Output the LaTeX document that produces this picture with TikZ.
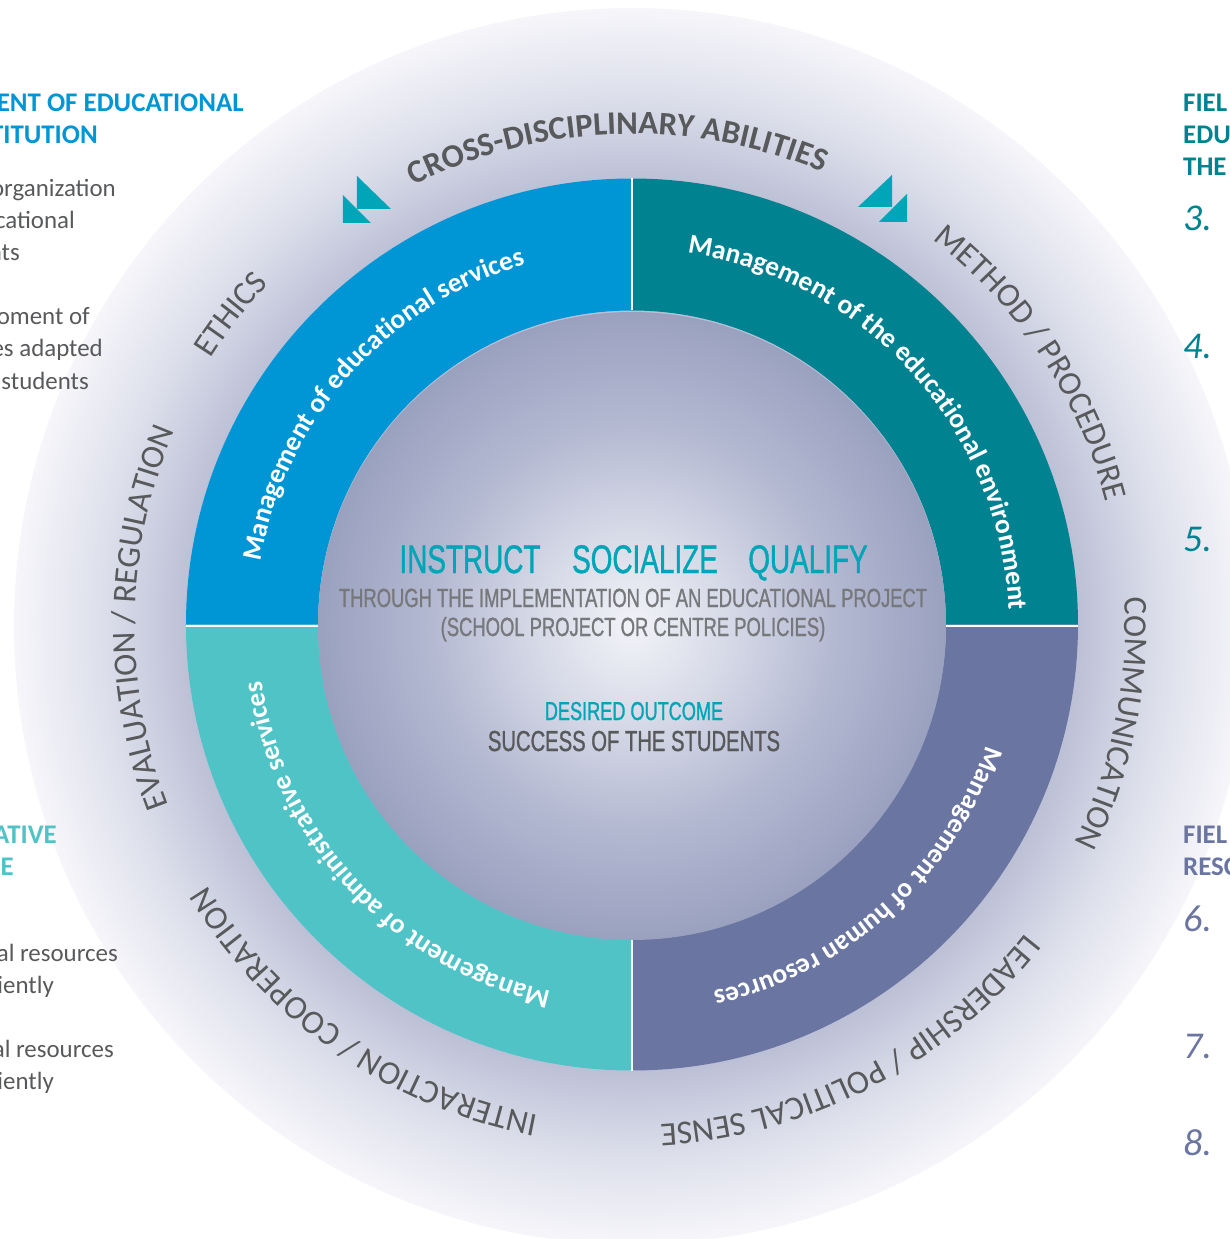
\documentclass[tikz,border=0pt]{standalone}
\usepackage{fontspec}
\setmainfont{Carlito}
\newfontfamily\narrowfont[FakeStretch=0.7,FakeBold=1]{Liberation Sans}
\usetikzlibrary{decorations.text}
\definecolor{bluefield}{HTML}{0096D6}
\definecolor{tealfield}{HTML}{008291}
\definecolor{aquafield}{HTML}{50C3C7}
\definecolor{slatefield}{HTML}{6A76A1}
\definecolor{aquamark}{HTML}{00A5B8}
\definecolor{greytext}{HTML}{58595B}
\definecolor{midgrey}{HTML}{77787B}
\definecolor{ringinner}{HTML}{BCC0D6}
\definecolor{ringmid}{HTML}{DDDFEB}
\definecolor{ringedge}{HTML}{F6F6FA}
\definecolor{corelight}{HTML}{F2F3F8}
\definecolor{coreone}{HTML}{D5D8E6}
\definecolor{coretwo}{HTML}{B4B9D2}
\definecolor{coreedge}{HTML}{9AA1BF}
\newcommand{\bandfont}{\fontsize{27.5}{27.5}\selectfont\bfseries}
\newcommand{\ringfont}{\fontsize{33.5}{33.5}\selectfont}
\newcommand{\crossfont}{\fontsize{33}{33}\selectfont\bfseries}
\pgfdeclareradialshading{ringshade}{\pgfpoint{0bp}{0bp}}{%
  color(0bp)=(ringinner);
  color(18bp)=(ringinner);
  color(21.5bp)=(ringmid);
  color(25bp)=(ringedge);
  color(50bp)=(ringedge)}
\pgfdeclareradialshading{coreshade}{\pgfpoint{0bp}{0bp}}{%
  color(0bp)=(corelight);
  color(8bp)=(coreone);
  color(16bp)=(coretwo);
  color(25bp)=(coreedge);
  color(50bp)=(coreedge)}
\begin{document}
\begin{tikzpicture}[x=1bp,y=1bp,
  headline/.style={font=\fontsize{27}{27}\selectfont\bfseries,inner sep=0pt},
  bodyline/.style={font=\fontsize{25}{25}\selectfont,text=greytext,inner sep=0pt,anchor=base east},
  numeral/.style={font=\fontsize{38}{38}\selectfont\itshape,inner sep=0pt,anchor=base west},
  centreline/.style={inner sep=0pt,anchor=base},
  bandtext/.style={decorate,decoration={text along path,text align=center,text={|\bandfont\color{white}|#1}}},
  ringtext/.style={decorate,decoration={text along path,text align=center,text={|\ringfont\color{greytext}|#1}}},
  crosstext/.style={decorate,decoration={text along path,text align=center,text={|\crossfont\color{greytext}|#1}}}]
\useasboundingbox (-632,-613) rectangle (598,626);
\clip (-632,-613) rectangle (598,626);

% discs
\shade[shading=ringshade] (0,0) circle (618);

% four fields
\begin{scope}[shift={(0,1.5)}]
\fill[bluefield] (90:314) -- (90:446) arc[start angle=90,end angle=180,radius=446] -- (180:314) arc[start angle=180,end angle=90,radius=314] -- cycle;
\fill[tealfield] (0:314) -- (0:446) arc[start angle=0,end angle=90,radius=446] -- (90:314) arc[start angle=90,end angle=0,radius=314] -- cycle;
\fill[aquafield] (180:314) -- (180:446) arc[start angle=180,end angle=270,radius=446] -- (270:314) arc[start angle=270,end angle=180,radius=314] -- cycle;
\fill[slatefield] (270:314) -- (270:446) arc[start angle=270,end angle=360,radius=446] -- (360:314) arc[start angle=360,end angle=270,radius=314] -- cycle;
\foreach \a in {90,270}
  \draw[white,line width=1.5] (\a:314) -- (\a:446);
\foreach \a in {0,180}
  \draw[white,line width=1.5] ([yshift=-1.5]\a:314) -- ([yshift=-1.5]\a:446);
\end{scope}
\shade[shading=coreshade] (0,0) circle (314);

% names of the fields
\path[bandtext={Management of educational services}] (178.3:377) arc[start angle=178.3,end angle=98.3,radius=377];
\path[bandtext={Management of the educational environment}] (87:377) arc[start angle=87,end angle=-3,radius=377];
\path[bandtext={Management of human resources}] (-8:374) arc[start angle=-8,end angle=-88,radius=374];
\path[bandtext={Management of administrative services}] (268:374) arc[start angle=268,end angle=178,radius=374];

% abilities
\path[crosstext={CROSS-DISCIPLINARY ABILITIES}] (130.3:492) arc[start angle=130.3,end angle=53.3,radius=492];
\path[ringtext={ETHICS}] (166.2:499) arc[start angle=166.2,end angle=118.2,radius=499];
\path[ringtext={METHOD / PROCEDURE}] (63:490) arc[start angle=63,end angle=3.8,radius=490];
\path[ringtext={COMMUNICATION}] (18.6:493) arc[start angle=18.6,end angle=-41.4,radius=493];
\path[ringtext={LEADERSHIP / POLITICAL SENSE}] (-22.4:499) arc[start angle=-22.4,end angle=-102.4,radius=499];
\path[ringtext={INTERACTION / COOPERATION}] (275.3:498) arc[start angle=275.3,end angle=195.3,radius=498];
\path[ringtext={EVALUATION / REGULATION}] (219:497) arc[start angle=219,end angle=139,radius=497];

% triangles
\fill[aquamark] (-275,450) -- (-275,417) -- (-241,417) -- cycle;
\fill[aquamark] (-289,431) -- (-289,403) -- (-261,403) -- cycle;
\fill[aquamark] (260,451) -- (260,419) -- (226,419) -- cycle;
\fill[aquamark] (275,432) -- (275,404) -- (247,404) -- cycle;

% centre
\node[centreline,font=\narrowfont\fontsize{40}{40}\selectfont,text=aquamark] (instruct) at (-162,53) {INSTRUCT};
\node[centreline,font=\narrowfont\fontsize{40}{40}\selectfont,text=aquamark] (socialize) at (13,53) {SOCIALIZE};
\node[centreline,font=\narrowfont\fontsize{40}{40}\selectfont,text=aquamark] (qualify) at (176,53) {QUALIFY};
\node[centreline,font=\narrowfont\fontsize{26.4}{26.4}\selectfont,text=midgrey] (through) at (1,19) {THROUGH THE IMPLEMENTATION OF AN EDUCATIONAL PROJECT};
\node[centreline,font=\narrowfont\fontsize{26.4}{26.4}\selectfont,text=midgrey] (policies) at (1,-10) {(SCHOOL PROJECT OR CENTRE POLICIES)};
\node[centreline,font=\narrowfont\fontsize{26}{26}\selectfont,text=aquamark] (desired) at (2,-94) {DESIRED OUTCOME};
\node[centreline,font=\narrowfont\fontsize{29}{29}\selectfont,text=greytext] (success) at (2,-125) {SUCCESS OF THE STUDENTS};

% left column
\node[headline,text=bluefield,anchor=base east] (leftheadA) at (-388,514) {ENT OF EDUCATIONAL};
\node[headline,text=bluefield,anchor=base east] (leftheadB) at (-534,482) {TITUTION};
\node[bodyline] (leftA) at (-516,429) {organization};
\node[bodyline] (leftB) at (-557,397) {cational};
\node[bodyline] (leftC) at (-612,365) {nts};
\node[bodyline] (leftD) at (-542,301) {oment of};
\node[bodyline] (leftE) at (-529,269) {es adapted};
\node[bodyline] (leftF) at (-543,237) {students};
\node[headline,text=aquafield,anchor=base east] (leftheadC) at (-575,-217) {ATIVE};
\node[headline,text=aquafield,anchor=base east] (leftheadD) at (-618,-249) {E};
\node[bodyline] (leftG) at (-514,-335) {al resources};
\node[bodyline] (leftH) at (-578,-367) {iently};
\node[bodyline] (leftI) at (-518,-431) {al resources};
\node[bodyline] (leftJ) at (-578,-463) {iently};

% right column
\node[headline,text=tealfield,anchor=base west] (rightheadA) at (551,514) {FIEL};
\node[headline,text=tealfield,anchor=base west] (rightheadB) at (551,482) {EDU};
\node[headline,text=tealfield,anchor=base west] (rightheadC) at (551,450) {THE};
\node[numeral,text=tealfield] (numthree) at (551,395) {3.};
\node[numeral,text=tealfield] (numfour) at (551,267) {4.};
\node[numeral,text=tealfield] (numfive) at (551,75) {5.};
\node[headline,text=slatefield,anchor=base west] (rightheadD) at (551,-217) {FIEL};
\node[headline,text=slatefield,anchor=base west] (rightheadE) at (551,-249) {RESC};
\node[numeral,text=slatefield] (numsix) at (551,-305) {6.};
\node[numeral,text=slatefield] (numseven) at (551,-432) {7.};
\node[numeral,text=slatefield] (numeight) at (551,-529) {8.};
\end{tikzpicture}
\end{document}
